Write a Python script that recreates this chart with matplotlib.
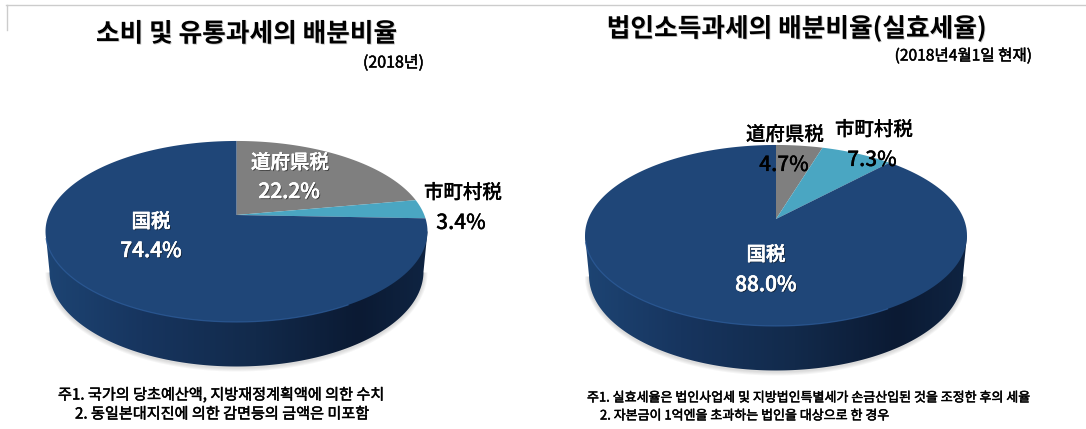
import numpy as np
import matplotlib.pyplot as plt
import matplotlib.patheffects as pe
from matplotlib.colors import LinearSegmentedColormap
from matplotlib.patches import Polygon

# shares, clockwise from 12 o'clock
categories = ['道府県税', '市町村税', '国税']
left_values = [22.2, 3.4, 74.4]
right_values = [4.7, 7.3, 88.0]

left_title = '소비 및 유통과세의 배분비율'
left_sub = '(2018년)'
right_title = '법인소득과세의 배분비율(실효세율)'
right_sub = '(2018년4월1일 현재)'
left_notes = ['주1. 국가의 당초예산액, 지방재정계획액에 의한 수치',
              '2. 동일본대지진에 의한 감면등의 금액은 미포함']
right_notes = ['주1. 실효세율은 법인사업세 및 지방법인특별세가 손금산입된 것을 조정한 후의 세율',
               '2. 자본금이 1억엔을 초과하는 법인을 대상으로 한 경우']

colors = ['#7f7f7f', '#4aa6c2', '#1f4678']
KR = 'Noto Sans CJK KR'
JP = 'Noto Sans CJK JP'

side_cmap = LinearSegmentedColormap.from_list('side', [
    (0.0, '#1d4473'), (0.25, '#17355f'), (0.55, '#122a4b'),
    (0.82, '#0b1a33'), (1.0, '#0f2442')])

fig = plt.figure(figsize=(10.86, 4.29), dpi=100)
ax = fig.add_axes([0, 0, 1, 1])
ax.set_xlim(0, 1086)
ax.set_ylim(429, 0)
ax.axis('off')

# thin frame left over at the top of the slide
ax.plot([6, 1086], [4.5, 4.5], color='#cccccc', lw=1)
ax.plot([6.5, 6.5], [4.5, 30], color='#cccccc', lw=1)


def rim(cx, cy, theta):
    # perspective view of a flat disc, theta clockwise from the back
    u, v = np.sin(theta), np.cos(theta)
    d = 1 + 0.182 * v
    return cx + 187.8 * u / d, cy - 87.5 * v / d


def draw_pie(cx, cy, values):
    mid_y = cy + 16.5
    low_y = mid_y + 40
    # lower edge of the side wall
    a = np.linspace(np.pi, 0, 200)
    low_x = cx + 187 * np.cos(a)
    low_yy = low_y + 95 * np.sin(a)
    side = np.column_stack([np.r_[cx - 191, low_x, cx + 191],
                            np.r_[mid_y, low_yy, mid_y]])

    # soft shadow under the disc
    for grow in [4, 3, 2, 1]:
        sx = cx + (187 + grow) * np.cos(a)
        sy = low_y + 1 + (95 + grow) * np.sin(a)
        ax.fill(sx, sy, color='#777777', alpha=0.07, lw=0, zorder=1)

    grad = np.linspace(0, 1, 256).reshape(1, -1)
    im = ax.imshow(grad, cmap=side_cmap, aspect='auto', zorder=2,
                   extent=[cx - 191, cx + 191, low_y + 96, mid_y - 5])
    im.set_clip_path(Polygon(side, transform=ax.transData))
    ax.set_xlim(0, 1086)
    ax.set_ylim(429, 0)

    # top face
    edges = np.r_[0, np.cumsum(values)] / 100 * 2 * np.pi
    for i, c in enumerate(colors):
        th = np.linspace(edges[i], edges[i + 1], 200)
        x, y = rim(cx, cy, th)
        ax.fill(np.r_[cx, x], np.r_[cy, y], color=c, lw=0, zorder=3)

    # lighter line on the front edge
    th = np.linspace(np.radians(150), np.radians(255), 200)
    x, y = rim(cx, cy, th)
    ax.plot(x, y, color='#2f5f9e', lw=0.9, alpha=0.7, zorder=4)


draw_pie(236.5, 215, left_values)
draw_pie(776, 219, right_values)

dark_fx = [pe.withSimplePatchShadow(offset=(0.6, -0.6), shadow_rgbFace='#888888', alpha=0.5)]
# white labels: shadow plus a hair of stroke so they keep the reference's weight
light_fx = [pe.withSimplePatchShadow(offset=(0.8, -0.8), shadow_rgbFace='#111111', alpha=0.55),
            pe.withStroke(linewidth=0.3, foreground='white')]
# the small text in the reference is a bit heavier than the regular cut
heavy_fx = [pe.withStroke(linewidth=0.35, foreground='black')]
thin_fx = [pe.withStroke(linewidth=0.12, foreground='black')]


def label(x, y, s, size, color='black', fx=None, family=JP, weight='medium', ha='center'):
    ax.text(x, y, s, fontsize=size, color=color, ha=ha, va='center', zorder=6,
            family=family, fontweight=weight, path_effects=fx)


label(246.5, 34, left_title, 18.5, fx=dark_fx, family=KR, weight='bold')
label(393.5, 63, left_sub, 11.5, family=KR, fx=heavy_fx)
label(796.5, 29, right_title, 18.5, fx=dark_fx, family=KR, weight='bold')
label(963, 56, right_sub, 11.2, family=KR, fx=heavy_fx)

# left pie labels
label(290, 163, categories[0], 14, 'white', light_fx)
label(289, 192, f'{left_values[0]}%', 15, 'white', light_fx)
label(463, 193, categories[1], 14, fx=thin_fx)
label(461, 223, f'{left_values[1]}%', 15, fx=thin_fx)
label(151, 222, categories[2], 14, 'white', light_fx)
label(151, 251, f'{left_values[2]}%', 15, 'white', light_fx)

# right pie labels
label(785, 135, categories[0], 14, fx=thin_fx)
label(784, 165, f'{right_values[0]}%', 15, fx=thin_fx)
label(874, 130, categories[1], 14, fx=thin_fx)
label(872, 160, f'{right_values[1]}%', 15, fx=thin_fx)
label(766, 255, categories[2], 14, 'white', light_fx)
label(766, 285, f'{right_values[2]}%', 15, 'white', light_fx)

# notes under the pies
label(58, 395, left_notes[0], 10.9, family=KR, ha='left', fx=heavy_fx)
label(75, 414, left_notes[1], 10.9, family=KR, ha='left', fx=heavy_fx)
label(587, 398, right_notes[0], 9.35, family=KR, ha='left', fx=heavy_fx)
label(600, 416, right_notes[1], 9.35, family=KR, ha='left', fx=heavy_fx)

fig.savefig('out.png', dpi=100, facecolor='white')
